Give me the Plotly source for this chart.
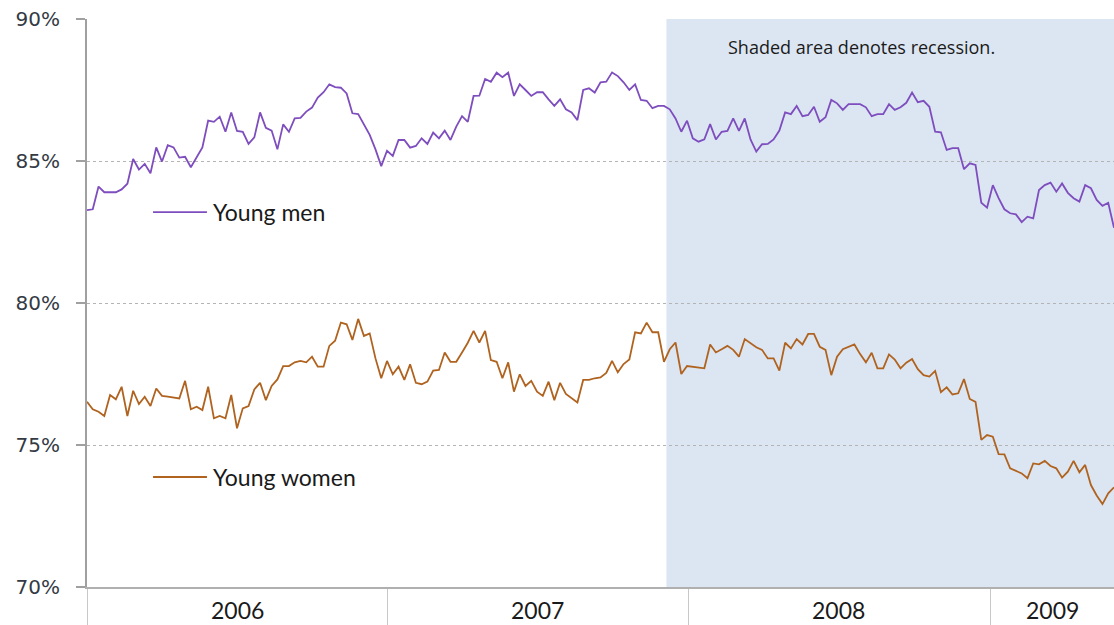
import pandas as pd
import plotly.graph_objects as go

# Weekly rates (%), Jan 2006 - May 2009
start_date = "2006-01-01"
n_weeks = 179
recession_start = "2007-12-05"
axis_end = "2009-05-31"

young_men = [
    83.27, 83.3, 84.1, 83.9, 83.9, 83.9, 84.0, 84.2, 85.07, 84.7, 84.9, 84.57, 85.48, 84.98, 85.56,
    85.48, 85.12, 85.15, 84.78, 85.15, 85.48, 86.42, 86.38, 86.56, 86.03, 86.71, 86.06, 86.03, 85.6,
    85.83, 86.71, 86.17, 86.07, 85.41, 86.29, 86.03, 86.5, 86.52, 86.74, 86.88, 87.23, 87.42, 87.7, 87.6,
    87.58, 87.38, 86.68, 86.65, 86.27, 85.92, 85.41, 84.82, 85.36, 85.18, 85.74, 85.74, 85.47, 85.53,
    85.8, 85.6, 86.0, 85.8, 86.07, 85.74, 86.21, 86.58, 86.38, 87.29, 87.3, 87.89, 87.79, 88.11, 87.95,
    88.11, 87.29, 87.7, 87.5, 87.29, 87.42, 87.42, 87.17, 86.94, 87.17, 86.82, 86.71, 86.44, 87.5, 87.56,
    87.41, 87.77, 87.79, 88.12, 87.99, 87.77, 87.5, 87.7, 87.15, 87.12, 86.86, 86.94, 86.94, 86.82,
    86.5, 86.03, 86.42, 85.8, 85.68, 85.76, 86.3, 85.76, 86.03, 86.06, 86.5, 86.06, 86.5, 85.76, 85.33,
    85.59, 85.6, 85.76, 86.07, 86.71, 86.65, 86.94, 86.58, 86.62, 86.91, 86.38, 86.54, 87.15, 87.03,
    86.8, 87.0, 87.0, 87.0, 86.89, 86.58, 86.65, 86.65, 87.0, 86.8, 86.89, 87.05, 87.41, 87.07, 87.12,
    86.91, 86.03, 86.01, 85.39, 85.45, 85.45, 84.71, 84.92, 84.86, 83.53, 83.36, 84.15, 83.69, 83.3,
    83.16, 83.12, 82.85, 83.04, 82.98, 83.98, 84.15, 84.24, 83.92, 84.21, 83.88, 83.69, 83.57, 84.15,
    84.04, 83.63, 83.42, 83.53, 82.65,
]

young_women = [
    76.52, 76.26, 76.17, 76.02, 76.76, 76.61, 77.05, 76.02, 76.91, 76.44, 76.7, 76.37, 76.99, 76.73,
    76.7, 76.68, 76.64, 77.26, 76.26, 76.35, 76.23, 77.05, 75.94, 76.02, 75.94, 76.76, 75.59, 76.29,
    76.37, 76.96, 77.19, 76.58, 77.08, 77.31, 77.78, 77.78, 77.91, 77.96, 77.91, 78.11, 77.76, 77.76,
    78.49, 78.67,
    79.31, 79.25, 78.7, 79.44, 78.84, 78.93, 78.05, 77.35, 77.96, 77.49, 77.76, 77.29, 77.84, 77.19,
    77.14, 77.23, 77.62, 77.64, 78.26, 77.93, 77.93, 78.26, 78.6, 79.02, 78.61, 79.02, 77.99, 77.93,
    77.35, 77.91, 76.88, 77.49, 77.08, 77.26, 76.88, 76.73, 77.23, 76.58, 77.19, 76.8, 76.64, 76.5,
    77.29, 77.29,
    77.35, 77.38, 77.54, 77.96, 77.56, 77.85, 78.01, 78.97, 78.93, 79.31, 78.97, 78.97, 77.93, 78.37,
    78.61, 77.5, 77.78, 77.76, 77.73, 77.7, 78.54, 78.26, 78.37, 78.49, 78.35, 78.11, 78.73, 78.58,
    78.44, 78.35, 78.05, 78.05, 77.62, 78.6, 78.4, 78.73, 78.54, 78.91, 78.91, 78.46, 78.35, 77.46, 78.11,
    78.37, 78.45, 78.54, 78.2, 77.91, 78.25, 77.7, 77.7, 78.19, 78.01, 77.7, 77.9, 78.03, 77.67, 77.46,
    77.41, 77.61, 76.86, 77.03, 76.78, 76.82, 77.32, 76.62, 76.52, 75.18, 75.35, 75.29, 74.68, 74.67,
    74.18, 74.08, 74.0, 73.83, 74.35, 74.32, 74.44, 74.26, 74.18, 73.85, 74.06, 74.44, 74.04, 74.3,
    73.59, 73.22, 72.92, 73.3, 73.51,
]

year_labels = ["2006", "2007", "2008", "2009"]
year_starts = ["2006-01-01", "2007-01-01", "2008-01-01", "2009-01-01"]
year_label_pos = ["2006-07-02", "2007-07-02", "2008-07-01", "2009-03-17"]
y_ticks = [70, 75, 80, 85, 90]
y_tick_text = ["70%", "75%", "80%", "85%", "90%"]

dates = pd.date_range(start_date, periods=n_weeks, freq="7D")

men_color = "#7E4DBE"
women_color = "#B0631F"

fig = go.Figure()
fig.add_trace(go.Scatter(x=dates, y=young_men[:n_weeks], mode="lines",
                         line=dict(color=men_color, width=1.8), name="Young men",
                         hoverinfo="skip"))
fig.add_trace(go.Scatter(x=dates, y=young_women[:n_weeks], mode="lines",
                         line=dict(color=women_color, width=1.8), name="Young women",
                         hoverinfo="skip"))

# Recession shading
fig.add_shape(type="rect", xref="x", yref="paper", x0=recession_start, x1=axis_end,
              y0=0, y1=1, fillcolor="#DCE6F2", line=dict(width=0), layer="below")

# In-chart series labels
for label, color, ypos in [("Young men", men_color, 0.660), ("Young women", women_color, 0.1937)]:
    fig.add_shape(type="line", xref="paper", yref="paper", x0=0.0643, x1=0.1168,
                  y0=ypos, y1=ypos, line=dict(color=color, width=1.8))
    fig.add_annotation(xref="paper", yref="paper", x=0.1207, y=ypos, text=label,
                       showarrow=False, xanchor="left", yanchor="middle",
                       font=dict(family="Lato", size=23, color="#1a1a1a"))

fig.add_annotation(xref="paper", yref="paper", x=0.7546, y=0.9507,
                   text="Shaded area denotes recession.", showarrow=False,
                   xanchor="center", yanchor="middle",
                   font=dict(family="Open Sans", size=18, color="#1a1a1a"))

for lab, pos in zip(year_labels, year_label_pos):
    fig.add_annotation(xref="x", yref="paper", x=pos, y=-0.04, text=lab,
                       showarrow=False, xanchor="center", yanchor="middle",
                       font=dict(family="Lato", size=23, color="#1a1a1a"))

fig.update_layout(
    width=1114, height=625,
    margin=dict(l=87, r=0, t=19, b=38),
    paper_bgcolor="white", plot_bgcolor="white",
    showlegend=False,
    xaxis=dict(range=[start_date, axis_end], tickvals=year_starts, showticklabels=False,
               ticks="outside", ticklen=38, tickcolor="#c8c8c8", tickwidth=1,
               showgrid=False, showline=True, linecolor="#b0b0b0", linewidth=2,
               zeroline=False),
    yaxis=dict(range=[70, 90], tickvals=y_ticks, ticktext=y_tick_text,
               ticks="outside", ticklen=9, tickcolor="#a0a0a0", tickwidth=1.5,
               showline=True, linecolor="#a0a0a0", linewidth=2,
               showgrid=True, gridcolor="#b4b4b4", griddash="dot", gridwidth=1,
               zeroline=False, ticklabelstandoff=12,
               tickfont=dict(family="DejaVu Sans", size=20, color="#333a44")),
)

fig.write_html("out.html", config={"displayModeBar": False},
               post_script="document.body.style.margin='0';")
